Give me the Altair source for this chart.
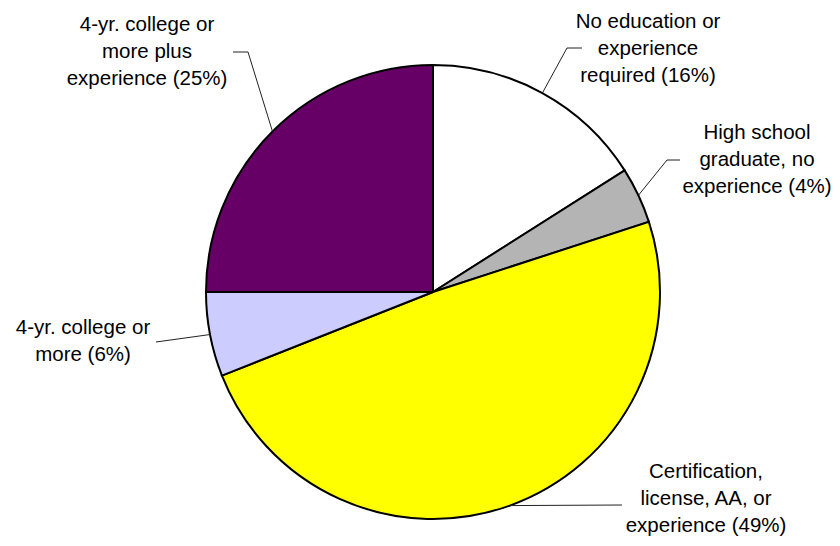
import math
import altair as alt
import pandas as pd

# ---- data ----
categories = [
    "No education or\nexperience\nrequired (16%)",
    "High school\ngraduate, no\nexperience (4%)",
    "Certification,\nlicense, AA, or\nexperience (49%)",
    "4-yr. college or\nmore (6%)",
    "4-yr. college or\nmore plus\nexperience (25%)",
]
shares = [16, 4, 49, 6, 25]
colors = ["#ffffff", "#b4b4b4", "#ffff00", "#ccccff", "#660066"]

# ---- layout (page pixels; page has an 8px margin) ----
M = 8
W, H = 840, 546
CX, CY, R = 433, 292, 227
# centre x and first-line y of each label
label_pos = [(648, 22), (757, 133), (706, 472), (83, 328), (147, 25)]
elbows = [(567, 48), (667, 160), (622, 505), (156, 342), (248, 52)]
ends = [(582, 48), (680, 160), (622, 505), (156, 342), (233, 52)]

pie = pd.DataFrame({"cat": categories, "share": shares, "order": range(len(shares))})

# leader lines: start on the pie edge at the slice's mid angle
rows = []
total = sum(shares)
cum = 0
for i, (c, s) in enumerate(zip(categories, shares)):
    mid = (cum + s / 2) / total * 2 * math.pi
    cum += s
    ex, ey = CX + R * math.sin(mid), CY - R * math.cos(mid)
    for k, (px, py) in enumerate([(ex, ey), elbows[i], ends[i]]):
        rows.append({"cat": c, "k": k, "px": px, "py": py})
leaders = pd.DataFrame(rows)

labels = pd.DataFrame({
    "cat": categories,
    "px": [p[0] for p in label_pos],
    "py": [p[1] for p in label_pos],
})

xs = alt.Scale(domain=[M, W - M], nice=False, zero=False)
ys = alt.Scale(domain=[H - M, M], nice=False, zero=False)

arcs = alt.Chart(pie).mark_arc(stroke="#000000", strokeWidth=2).encode(
    theta=alt.Theta("share:Q", stack=True),
    order=alt.Order("order:Q"),
    color=alt.Color("cat:N", scale=alt.Scale(domain=categories, range=colors), legend=None),
    x=alt.value(CX - M),
    y=alt.value(CY - M),
    radius=alt.value(R),
)

lines = alt.Chart(leaders).mark_line(color="#222222", strokeWidth=1).encode(
    x=alt.X("px:Q", scale=xs, axis=None),
    y=alt.Y("py:Q", scale=ys, axis=None),
    detail="cat:N",
    order="k:Q",
)

texts = alt.Chart(labels).mark_text(
    font="Liberation Sans", fontSize=20.5, lineHeight=27, lineBreak="\n",
    align="center", baseline="middle", color="#000000",
).encode(
    x=alt.X("px:Q", scale=xs, axis=None),
    y=alt.Y("py:Q", scale=ys, axis=None),
    text="cat:N",
)

chart = alt.layer(arcs, lines, texts).properties(
    width=W - 2 * M, height=H - 2 * M, padding=0,
    autosize=alt.AutoSizeParams(type="none"),
    background="#ffffff",
).configure_view(stroke=None)

chart.save("out.html", embed_options={"renderer": "svg", "actions": False})
